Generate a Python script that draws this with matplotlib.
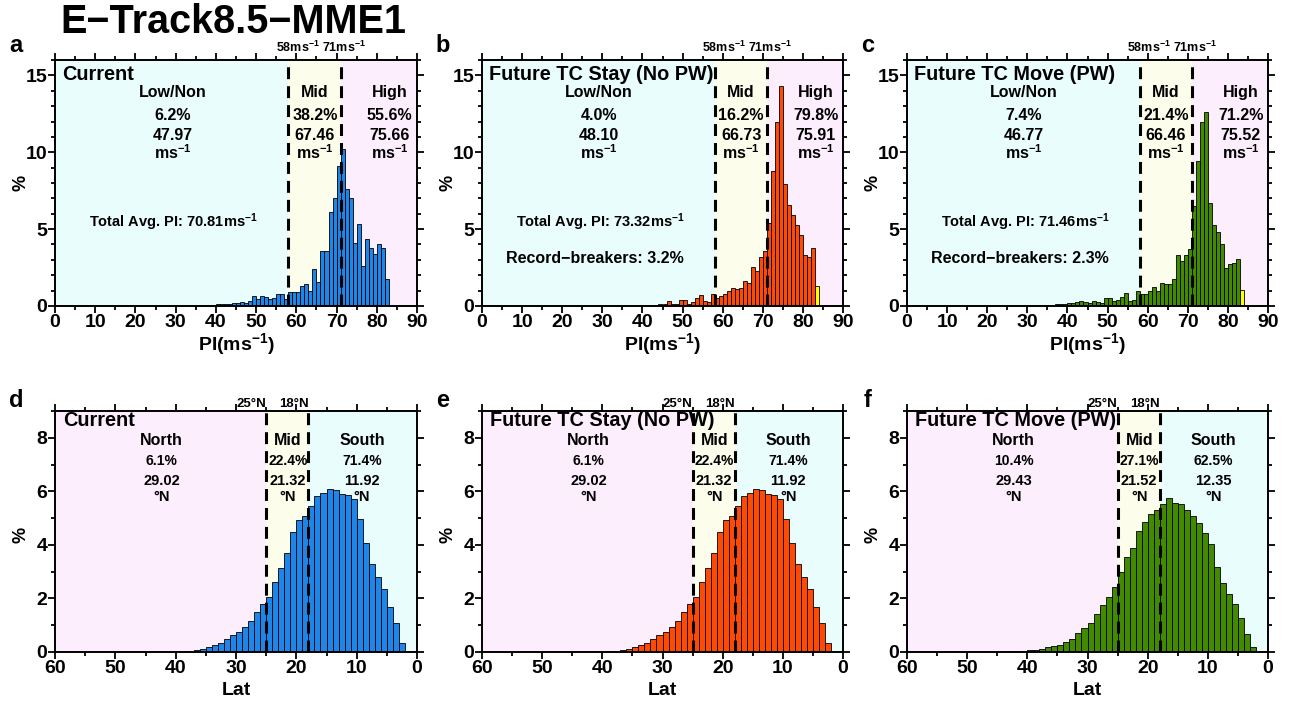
import matplotlib
matplotlib.use('Agg')
import matplotlib.pyplot as plt
from matplotlib.ticker import MultipleLocator

plt.rcParams['font.family'] = ['Liberation Sans', 'DejaVu Sans']
plt.rcParams['font.weight'] = 'bold'
plt.rcParams['mathtext.fontset'] = 'custom'
plt.rcParams['mathtext.rm'] = 'Liberation Sans:bold'
plt.rcParams['mathtext.it'] = 'Liberation Sans:bold'
plt.rcParams['mathtext.bf'] = 'Liberation Sans:bold'
plt.rcParams['mathtext.default'] = 'rm'

# ---------------- data ----------------
pi_start = 30  # first 1 ms-1 bin
pi_current = [0.01, 0.01, 0.02, 0.02, 0.03, 0.03, 0.04, 0.05, 0.06, 0.08,
              0.12, 0.12, 0.15, 0.15, 0.2, 0.2, 0.25, 0.2, 0.3, 0.63,
              0.43, 0.63, 0.6, 0.48, 0.5, 0.78, 0.78, 0.48, 0.9, 0.9,
              0.9, 1.3, 1.4, 1.0, 2.4, 1.55, 3.55, 3.6, 6.1, 7.0,
              9.1, 10.24, 7.6, 7.0, 4.1, 5.35, 2.6, 4.35, 3.8, 3.4,
              4.05, 3.8, 1.75]
pi_stay = [0.0, 0.0, 0.0, 0.0, 0.01, 0.01, 0.02, 0.02, 0.03, 0.04,
           0.05, 0.06, 0.08, 0.08, 0.1, 0.12, 0.3, 0.1, 0.15, 0.37,
           0.37, 0.15, 0.25, 0.5, 0.7, 0.3, 0.25, 0.75, 0.55, 0.65,
           0.8, 0.95, 1.15, 1.1, 1.15, 1.6, 1.5, 2.55, 2.3, 3.2,
           3.6, 5.4, 8.8, 12.0, 14.3, 7.95, 6.6, 5.9, 5.3, 4.6,
           3.3, 3.2, 3.8]
pi_move = [0.01, 0.01, 0.02, 0.03, 0.05, 0.06, 0.08, 0.1, 0.12, 0.15,
           0.2, 0.2, 0.25, 0.3, 0.25, 0.2, 0.3, 0.25, 0.2, 0.55,
           0.5, 0.3, 0.4, 0.6, 0.85, 0.35, 0.4, 0.95, 0.8, 0.75,
           1.0, 1.25, 1.0, 1.5, 1.45, 1.4, 1.75, 3.3, 2.9, 3.3,
           3.7, 6.5, 9.4, 12.0, 12.6, 6.67, 5.3, 4.8, 4.0, 2.45,
           2.75, 2.8, 3.05]
record_bin = 83
record_heights = [None, 1.28, 1.02]

lat_start = 2  # first 1-degree bin
lat_current = [0.32, 1.07, 1.69, 2.37, 2.81, 3.27, 4.08, 4.97, 5.7, 5.85, 5.9,
               6.05, 6.07, 5.95, 5.83, 5.45, 5.08, 4.93, 4.49, 3.71, 3.15,
               2.62, 2.07, 1.78, 1.49, 1.15, 0.92, 0.76, 0.62, 0.47, 0.32,
               0.25, 0.18, 0.12, 0.08, 0.05, 0.03, 0.02, 0.01]
lat_stay = [0.32, 1.07, 1.69, 2.37, 2.81, 3.27, 4.08, 4.97, 5.7, 5.85, 5.9,
            6.05, 6.07, 5.95, 5.83, 5.45, 5.08, 4.93, 4.49, 3.71, 3.15,
            2.62, 2.07, 1.78, 1.49, 1.15, 0.92, 0.76, 0.62, 0.47, 0.32,
            0.25, 0.18, 0.12, 0.08, 0.05, 0.03, 0.02, 0.01]
lat_move = [0.17, 0.67, 1.26, 1.79, 2.15, 2.56, 3.16, 4.05, 4.45, 4.8,
            5.07, 5.3, 5.52, 5.57, 5.76, 5.51, 5.32, 5.15, 4.84, 4.53,
            3.9, 3.55, 2.97, 2.44, 2.07, 1.75, 1.42, 1.07, 0.88, 0.72,
            0.47, 0.38, 0.28, 0.22, 0.17, 0.12, 0.09, 0.06, 0.04, 0.03, 0.02]

panel_titles = ['Current', 'Future TC Stay (No PW)', 'Future TC Move (PW)']
pi_letters = ['a', 'b', 'c']
lat_letters = ['d', 'e', 'f']
pi_cats = ['Low/Non', 'Mid', 'High']
pi_pct = [['6.2%', '38.2%', '55.6%'], ['4.0%', '16.2%', '79.8%'], ['7.4%', '21.4%', '71.2%']]
pi_mean = [['47.97', '67.46', '75.66'], ['48.10', '66.73', '75.91'], ['46.77', '66.46', '75.52']]
pi_total = ['70.81', '73.32', '71.46']
record_pct = [None, '3.2%', '2.3%']
lat_cats = ['North', 'Mid', 'South']
lat_pct = [['6.1%', '22.4%', '71.4%'], ['6.1%', '22.4%', '71.4%'], ['10.4%', '27.1%', '62.5%']]
lat_mean = [['29.02', '21.32', '11.92'], ['29.02', '21.32', '11.92'], ['29.43', '21.52', '12.35']]
pi_thresh = [58, 71]
lat_thresh = [25, 18]

bar_colors = ['#1e86e8', '#ff4a05', '#428a02']
bg_cyan, bg_yellow, bg_pink = '#eafdfd', '#fdfdeb', '#fdeefd'

# ---------------- layout ----------------
W, H = 1290, 704
fig = plt.figure(figsize=(W / 100, H / 100), dpi=100)


def ax_at(x0, y0, x1, y1):
    return fig.add_axes([x0 / W, 1 - y1 / H, (x1 - x0) / W, (y1 - y0) / H])


cols = [(55, 417), (482, 843), (907, 1268)]
DASH = (0, (3.9, 2.3))


def style(ax, xmaj, xmin, ymaj, ymin):
    ax.xaxis.set_major_locator(MultipleLocator(xmaj))
    ax.xaxis.set_minor_locator(MultipleLocator(xmin))
    ax.yaxis.set_major_locator(MultipleLocator(ymaj))
    ax.yaxis.set_minor_locator(MultipleLocator(ymin))
    ax.tick_params(which='both', direction='out', top=True, right=True, width=1.3)
    ax.tick_params(which='major', length=5, labelsize=14, pad=0.5)
    ax.tick_params(which='minor', length=3)
    for s in ax.spines.values():
        s.set_linewidth(1.4)
    for lab in ax.get_xticklabels() + ax.get_yticklabels():
        lab.set_fontweight('bold')


fig.text(60 / W, 1 - 22 / H, 'E\u2212Track8.5\u2212MME1', fontsize=28.5,
         fontweight='bold', ha='left', va='center')

pi_series = [pi_current, pi_stay, pi_move]
lat_series = [lat_current, lat_stay, lat_move]
TS = 14.3

for k in range(3):
    x0, x1 = cols[k]
    # ---------- PI panel ----------
    ax = ax_at(x0, 60, x1, 306)
    ax.set_xlim(0, 90)
    ax.set_ylim(0, 16)
    ax.axvspan(0, pi_thresh[0], color=bg_cyan, zorder=0, lw=0)
    ax.axvspan(pi_thresh[0], pi_thresh[1], color=bg_yellow, zorder=0, lw=0)
    ax.axvspan(pi_thresh[1], 90, color=bg_pink, zorder=0, lw=0)
    vals = pi_series[k]
    lefts = [pi_start + i for i in range(len(vals))]
    ax.bar(lefts, vals, width=1, align='edge', color=bar_colors[k],
           edgecolor='black', linewidth=0.6, zorder=2)
    if record_heights[k] is not None:
        ax.bar([record_bin], [record_heights[k]], width=1, align='edge',
               color='#ffff00', edgecolor='black', linewidth=0.6, zorder=2)
    for t in pi_thresh:
        ax.axvline(t, color='black', lw=2.2, linestyle=DASH, zorder=3)
    style(ax, 10, 5, 5, 1)
    ax.set_xlabel('PI(ms$^{-1}$)', fontsize=14, fontweight='bold', labelpad=0)
    ax.text(0.02, 0.943, panel_titles[k], transform=ax.transAxes, fontsize=TS,
            fontweight='bold', ha='left', va='center', zorder=4)
    xs = [29.2, 64.6, 83.2]
    for j in range(3):
        ax.text(xs[j], 13.86, pi_cats[j], fontsize=11.5, ha='center', va='center', zorder=4)
        ax.text(xs[j], 12.42, pi_pct[k][j], fontsize=11.5, ha='center', va='center', zorder=4)
        ax.text(xs[j], 11.1, pi_mean[k][j], fontsize=11.5, ha='center', va='center', zorder=4)
        ax.text(xs[j], 9.95, 'ms$^{-1}$', fontsize=11.5, ha='center', va='center', zorder=4)
    ax.text(29.4, 5.42, 'Total Avg. PI: ' + pi_total[k] + 'ms$^{-1}$', fontsize=10.5,
            ha='center', va='center', zorder=4)
    if record_pct[k] is not None:
        ax.text(28.2, 3.07, 'Record\u2212breakers: ' + record_pct[k], fontsize=11.5,
                ha='center', va='center', zorder=4)
    ax.text(60.3, 1.05, '%dms$^{-1}$' % pi_thresh[0], transform=ax.get_xaxis_transform(),
            fontsize=9, ha='center', va='center')
    ax.text(71.9, 1.05, '%dms$^{-1}$' % pi_thresh[1], transform=ax.get_xaxis_transform(),
            fontsize=9, ha='center', va='center')
    fig.text((x0 - 34) / W, 1 - 183 / H, '%', rotation=90, fontsize=13,
             fontweight='bold', ha='center', va='center')
    fig.text((x0 - 39) / W, 1 - 45 / H, pi_letters[k], fontsize=17,
             fontweight='bold', ha='center', va='center')

    # ---------- Latitude panel ----------
    ax = ax_at(x0, 411, x1, 652)
    ax.set_xlim(60, 0)
    ax.set_ylim(0, 9)
    ax.axvspan(60, lat_thresh[0], color=bg_pink, zorder=0, lw=0)
    ax.axvspan(lat_thresh[0], lat_thresh[1], color=bg_yellow, zorder=0, lw=0)
    ax.axvspan(lat_thresh[1], 0, color=bg_cyan, zorder=0, lw=0)
    vals = lat_series[k]
    lefts = [lat_start + i for i in range(len(vals))]
    ax.bar(lefts, vals, width=1, align='edge', color=bar_colors[k],
           edgecolor='black', linewidth=0.6, zorder=2)
    for t in lat_thresh:
        ax.axvline(t, color='black', lw=2.2, linestyle=DASH, zorder=3)
    style(ax, 10, 5, 2, 1)
    ax.set_xlabel('Lat', fontsize=14, fontweight='bold', labelpad=4)
    ax.text(0.022, 0.959, panel_titles[k], transform=ax.transAxes, fontsize=TS,
            fontweight='bold', ha='left', va='center', zorder=4)
    xs = [42.3, 21.4, 9.1]
    for j in range(3):
        ax.text(xs[j], 7.91, lat_cats[j], fontsize=11.5, ha='center', va='center', zorder=4)
        ax.text(xs[j], 7.13, lat_pct[k][j], fontsize=10, ha='center', va='center', zorder=4)
        ax.text(xs[j], 6.4, lat_mean[k][j], fontsize=10.5, ha='center', va='center', zorder=4)
        ax.text(xs[j], 5.78, '\u00b0N', fontsize=10.5, ha='center', va='center', zorder=4)
    for t in lat_thresh:
        ax.text(t, 1.03, '%d\u00b0N' % t, transform=ax.get_xaxis_transform(),
                fontsize=9.5, ha='right', va='center')
    fig.text((x0 - 34) / W, 1 - 535 / H, '%', rotation=90, fontsize=13,
             fontweight='bold', ha='center', va='center')
    fig.text((x0 - 39) / W, 1 - 400 / H, lat_letters[k], fontsize=17,
             fontweight='bold', ha='center', va='center')

fig.savefig('out.png', dpi=100)
